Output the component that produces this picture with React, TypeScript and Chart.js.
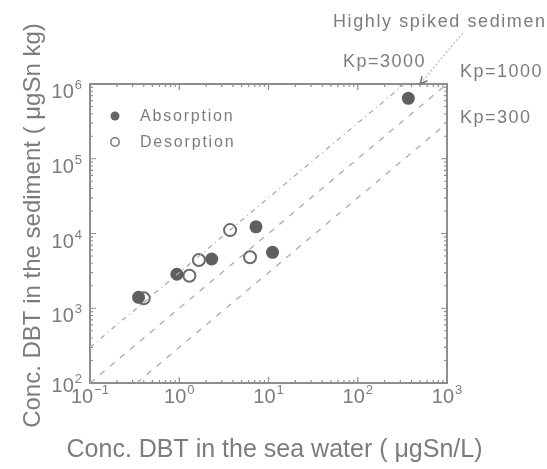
import React, { useEffect, useRef } from "react";
import { Chart, registerables } from "chart.js";
Chart.register(...registerables);

// ---- data ----
const absorptionX = [0.35, 0.94, 2.31, 7.24, 11.1, 369];
const absorptionY = [1400, 2850, 4560, 12300, 5600, 644000];
const desorptionX = [0.4, 1.3, 1.66, 6.21, 3.71];
const desorptionY = [1360, 2720, 4420, 4810, 11100];
const kpValues = [3000, 1000, 300];
const kpLabels = ["Kp=3000", "Kp=1000", "Kp=300"];
const xTickExponents = [-1, 0, 1, 2, 3];
const yTickExponents = [2, 3, 4, 5, 6];
const xRange = [0.1, 1000];
const yRange = [100, 1e6];
const arrowFrom = [1500, 4.8e6];
const arrowTo = [500, 1e6];
const spikedLabel = "Highly spiked sediment";
const xTitle = "Conc. DBT in the sea water ( \u03bcgSn/L)";
const yTitle = "Conc. DBT in the sediment ( \u03bcgSn kg)";
const legendLabels = ["Absorption", "Desorption"];

const TEXT = "#7c7c7c";
const AXIS = "#8e8e8e";
const LINE = "#ababab";
const FONT = "'Liberation Sans', Arial, sans-serif";

function kpLine(kp: number) {
  const x0 = Math.max(xRange[0], yRange[0] / kp);
  const x1 = Math.min(xRange[1], yRange[1] / kp);
  return [
    { x: x0, y: kp * x0 },
    { x: x1, y: kp * x1 },
  ];
}

function drawPow(ctx: CanvasRenderingContext2D, x: number, baseline: number, exp: number, align: "center" | "right") {
  const base = "10";
  const sup = exp < 0 ? "\u2212" + Math.abs(exp) : String(exp);
  ctx.font = `20px ${FONT}`;
  const wb = ctx.measureText(base).width;
  ctx.font = `13px ${FONT}`;
  const ws = ctx.measureText(sup).width;
  const total = wb + ws + 1;
  const start = align === "center" ? x - total / 2 : x - total;
  ctx.textAlign = "left";
  ctx.textBaseline = "alphabetic";
  ctx.font = `20px ${FONT}`;
  ctx.fillText(base, start, baseline);
  ctx.font = `13px ${FONT}`;
  ctx.fillText(sup, start + wb + 1, baseline - 9);
}

const deco = {
  id: "deco",
  beforeDatasetsDraw(chart: any) {
    const { ctx, chartArea: a, scales } = chart;
    const xs = scales.x;
    const ys = scales.y;
    ctx.save();
    ctx.strokeStyle = AXIS;
    ctx.lineWidth = 1.2;
    for (let e = -1; e <= 3; e++) {
      for (let m = 1; m <= 9; m++) {
        const v = m * Math.pow(10, e);
        if (v > xRange[1] * 1.0001) break;
        const px = xs.getPixelForValue(v);
        const len = m === 1 ? 6 : 3;
        ctx.beginPath();
        ctx.moveTo(px, a.bottom);
        ctx.lineTo(px, a.bottom - len);
        ctx.moveTo(px, a.top);
        ctx.lineTo(px, a.top + len);
        ctx.stroke();
      }
    }
    for (let e = 2; e <= 6; e++) {
      for (let m = 1; m <= 9; m++) {
        const v = m * Math.pow(10, e);
        if (v > yRange[1] * 1.0001) break;
        const py = ys.getPixelForValue(v);
        const len = m === 1 ? 6 : 3;
        ctx.beginPath();
        ctx.moveTo(a.left, py);
        ctx.lineTo(a.left + len, py);
        ctx.moveTo(a.right, py);
        ctx.lineTo(a.right - len, py);
        ctx.stroke();
      }
    }
    ctx.lineWidth = 2;
    ctx.strokeRect(a.left, a.top, a.right - a.left, a.bottom - a.top);
    ctx.restore();
  },
  afterDraw(chart: any) {
    const { ctx, chartArea: a, scales } = chart;
    const xs = scales.x;
    const ys = scales.y;
    ctx.save();
    ctx.fillStyle = TEXT;
    xTickExponents.forEach((e) => {
      drawPow(ctx, xs.getPixelForValue(Math.pow(10, e)), a.bottom + 20, e, "center");
    });
    yTickExponents.forEach((e) => {
      const py = ys.getPixelForValue(Math.pow(10, e));
      drawPow(ctx, a.left - 8, py + (e === 2 ? 9 : 14), e, "right");
    });
    // axis titles
    ctx.font = `25px ${FONT}`;
    ctx.textAlign = "center";
    ctx.textBaseline = "alphabetic";
    ctx.fillText(xTitle, (a.left + a.right) / 2 + 6, a.bottom + 74);
    ctx.save();
    ctx.font = `24px ${FONT}`;
    ctx.translate(a.left - 50, (a.top + a.bottom) / 2 - 8);
    ctx.rotate(-Math.PI / 2);
    ctx.fillText(yTitle, 0, 0);
    ctx.restore();

    // annotation labels
    (ctx as any).letterSpacing = "1.5px";
    ctx.font = `18px ${FONT}`;
    ctx.textAlign = "left";
    ctx.fillText(kpLabels[0], a.left + 253, a.top - 17);
    ctx.fillText(kpLabels[1], a.right + 13, a.top - 7);
    ctx.fillText(kpLabels[2], a.right + 13, ys.getPixelForValue(kpValues[2] * xRange[1]));
    (ctx as any).letterSpacing = "1.6px";
    ctx.font = `18px ${FONT}`;
    ctx.fillText(spikedLabel, a.left + 243, a.top - 57);

    // arrow
    const fx = xs.getPixelForValue(arrowFrom[0]);
    const fy = ys.getPixelForValue(arrowFrom[1]);
    const tx = xs.getPixelForValue(arrowTo[0]);
    const ty = ys.getPixelForValue(arrowTo[1]);
    ctx.strokeStyle = "#b5b5b5";
    ctx.lineWidth = 1.2;
    ctx.setLineDash([2, 2]);
    ctx.beginPath();
    ctx.moveTo(fx, fy);
    ctx.lineTo(tx, ty);
    ctx.stroke();
    ctx.setLineDash([]);
    const ang = Math.atan2(ty - fy, tx - fx);
    ctx.strokeStyle = "#777";
    ctx.lineWidth = 1.5;
    ctx.beginPath();
    ctx.moveTo(tx - 8 * Math.cos(ang - 0.45), ty - 8 * Math.sin(ang - 0.45));
    ctx.lineTo(tx, ty);
    ctx.lineTo(tx - 8 * Math.cos(ang + 0.45), ty - 8 * Math.sin(ang + 0.45));
    ctx.stroke();

    // legend
    (ctx as any).letterSpacing = "1.8px";
    ctx.font = `16px ${FONT}`;
    const lx = a.left + 25;
    const ly1 = a.top + 32;
    const ly2 = a.top + 58;
    ctx.fillStyle = "#666";
    ctx.beginPath();
    ctx.arc(lx, ly1, 4.5, 0, Math.PI * 2);
    ctx.fill();
    ctx.strokeStyle = "#777";
    ctx.lineWidth = 1.5;
    ctx.beginPath();
    ctx.arc(lx, ly2, 4.2, 0, Math.PI * 2);
    ctx.stroke();
    ctx.fillStyle = TEXT;
    ctx.textBaseline = "alphabetic";
    ctx.fillText(legendLabels[0], a.left + 50, ly1 + 5);
    ctx.fillText(legendLabels[1], a.left + 50, ly2 + 5);
    ctx.restore();
  },
};

export default function App() {
  const ref = useRef<HTMLCanvasElement>(null);
  useEffect(() => {
    if (!ref.current) return;
    const dashes = [[5, 4, 1, 4], [6, 7], [6, 7]];
    const lineSets = kpValues.map((kp, i) => ({
      type: "scatter" as const,
      label: kpLabels[i],
      data: kpLine(kp),
      showLine: true,
      borderColor: LINE,
      borderWidth: 1.3,
      borderDash: dashes[i],
      pointRadius: 0,
      fill: false,
    }));
    const chart = new Chart(ref.current, {
      type: "scatter",
      data: {
        datasets: [
          ...lineSets,
          {
            label: legendLabels[0],
            data: absorptionX.map((x, i) => ({ x, y: absorptionY[i] })),
            pointRadius: 6.5,
            pointBackgroundColor: "#5f5f5f",
            pointBorderColor: "#5f5f5f",
            pointBorderWidth: 0,
          },
          {
            label: legendLabels[1],
            data: desorptionX.map((x, i) => ({ x, y: desorptionY[i] })),
            pointRadius: 6,
            pointBackgroundColor: "#ffffff",
            pointBorderColor: "#6a6a6a",
            pointBorderWidth: 2,
          },
        ] as any,
      },
      options: {
        animation: false,
        responsive: false,
        devicePixelRatio: 1,
        layout: { padding: { left: 90, top: 84, right: 100, bottom: 86 } },
        plugins: { legend: { display: false }, tooltip: { enabled: false } },
        scales: {
          x: { type: "logarithmic", min: xRange[0], max: xRange[1], display: false },
          y: { type: "logarithmic", min: yRange[0], max: yRange[1], display: false },
        },
      },
      plugins: [deco],
    });
    return () => chart.destroy();
  }, []);
  return (
    <div style={{ position: "absolute", left: 0, top: 0, width: 547, height: 469, background: "#fff" }}>
      <canvas ref={ref} width={547} height={469} style={{ display: "block" }} />
    </div>
  );
}
